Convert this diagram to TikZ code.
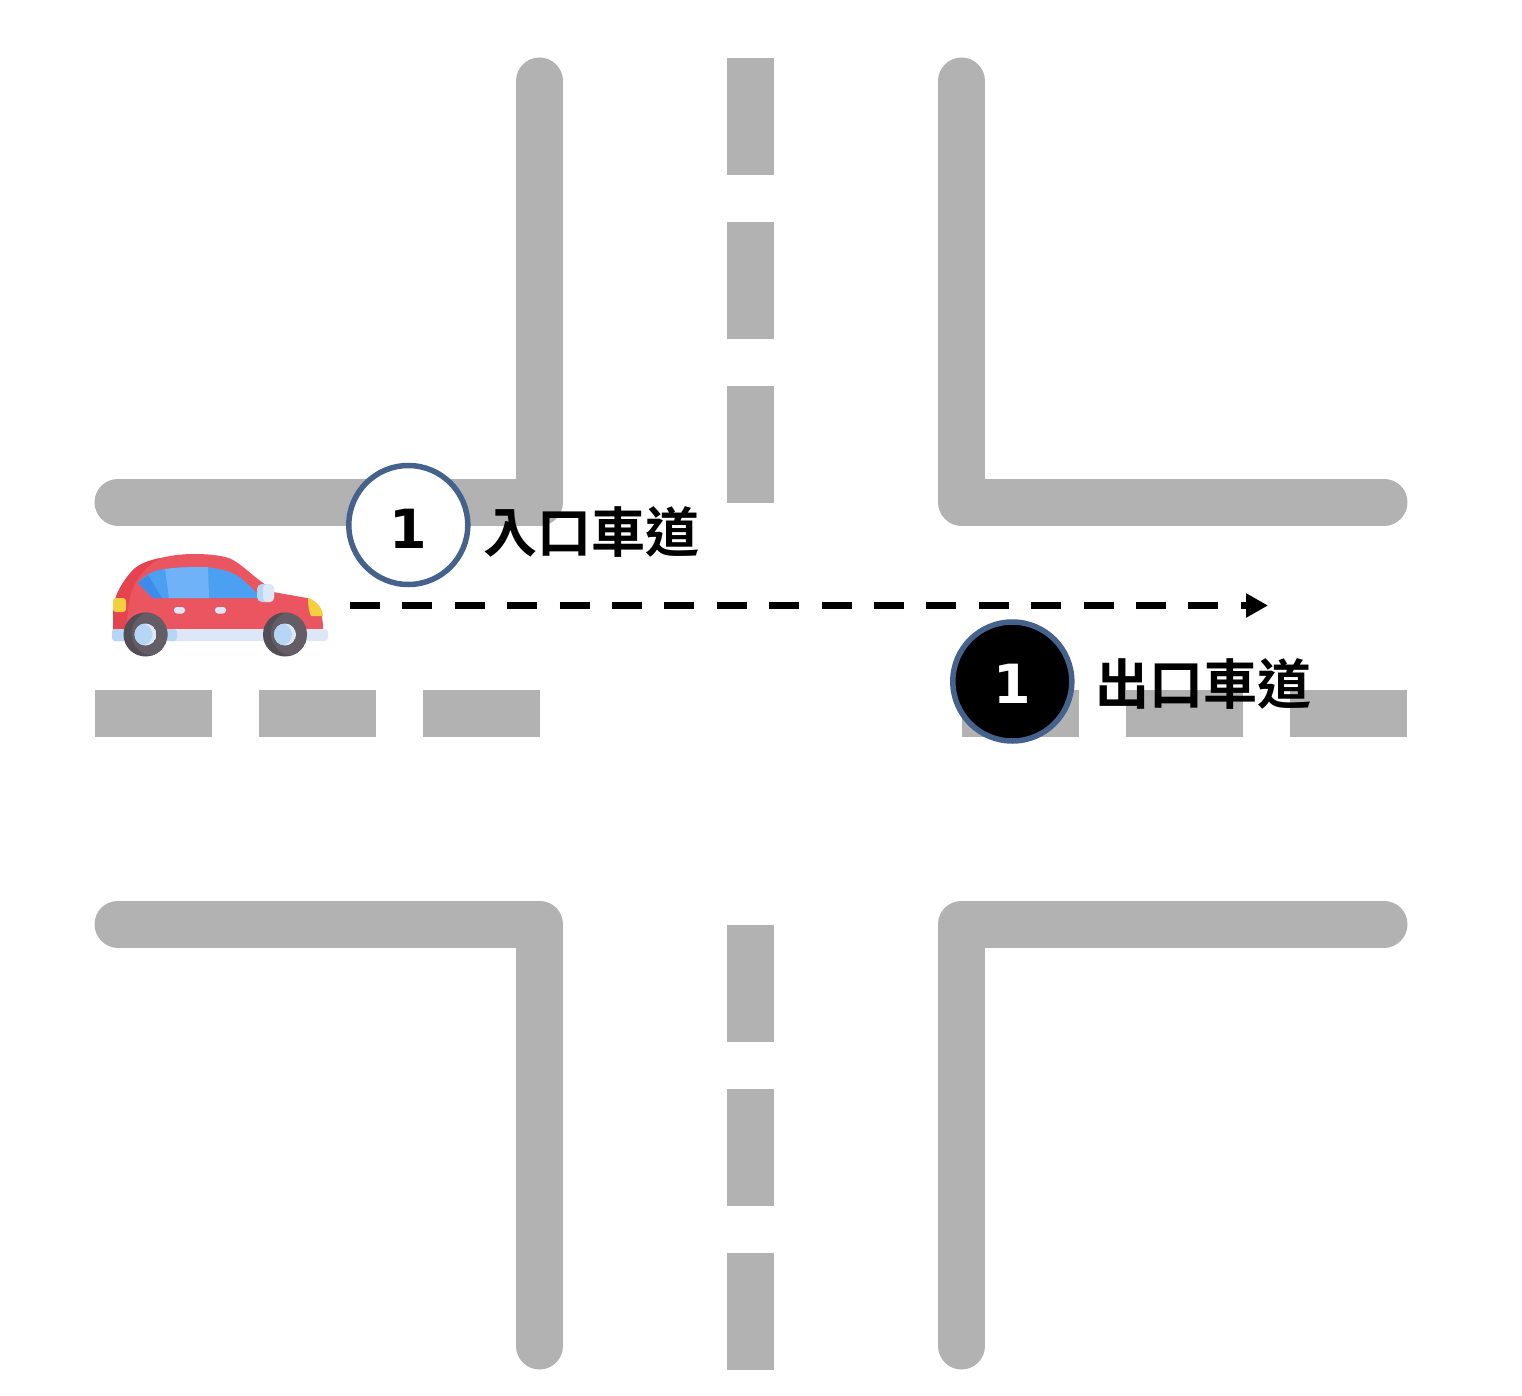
\documentclass[tikz,border=0pt]{standalone}
\usepackage{fontspec}
\usetikzlibrary{arrows.meta}
\setmainfont{DejaVu Sans}
\newfontfamily\cjkfont{Noto Sans CJK TC Bold}
\definecolor{roadgray}{HTML}{B2B2B2}
\definecolor{ringblue}{HTML}{44628C}
\definecolor{carred}{HTML}{EB5560}
\definecolor{cardark}{HTML}{E5444F}
\definecolor{glassmid}{HTML}{4BA0F2}
\definecolor{glasslight}{HTML}{70B2F8}
\definecolor{glassdark}{HTML}{3D8BEB}
\definecolor{carpale}{HTML}{DDE7F7}
\definecolor{carpaleblue}{HTML}{B6D6F5}
\definecolor{tyre}{HTML}{645D66}
\definecolor{tyredark}{HTML}{534D55}
\definecolor{lampyellow}{HTML}{F6CF3F}
\tikzset{
  x=1pt,y=-1pt,
  road/.style={draw=roadgray,line width=47pt,line cap=round,line join=round},
  lane/.style={fill=roadgray,draw=none},
  badge/.style={circle,draw=ringblue,line width=5.5pt,minimum size=119pt,inner sep=0pt,text depth=0pt,font=\bfseries\fontsize{54}{54}\selectfont},
  label/.style={anchor=west,inner sep=0pt,font=\cjkfont\fontsize{54}{54}\selectfont},
  route/.style={line width=7pt,dash pattern=on 30pt off 22.4pt,-{Triangle[length=22pt,width=23pt]}}
}
\newcommand{\wheel}[2]{%
  \begin{scope}
    \clip (#1,#2) circle (22pt);
    \fill[tyredark] (#1,#2) circle (22pt);
    \fill[tyre] (#1+8,#2-1) circle (22pt);
  \end{scope}
  \begin{scope}
    \clip (#1,#2) circle (11pt);
    \fill[carpale] (#1,#2) circle (11pt);
    \fill[carpaleblue] (#1-4,#2) circle (11pt);
  \end{scope}}
\begin{document}
\begin{tikzpicture}
\useasboundingbox (0,0) rectangle (1522,1396);
% kerbs
\draw[road] (118,502) -- (539.5,502) -- (539.5,81);
\draw[road] (1384,502) -- (961.5,502) -- (961.5,81);
\draw[road] (118,924) -- (539.5,924) -- (539.5,1346);
\draw[road] (1384,924) -- (961.5,924) -- (961.5,1346);
% centre lanes
\foreach \y in {58,222,386,925,1089,1253}
  \fill[lane] (727,\y) rectangle ++(47,117);
\foreach \x in {95,259,423,962,1126,1290}
  \fill[lane] (\x,690) rectangle ++(117,47);
% car
\fill[carred] (113,630) -- (113,610) .. controls (114,596) and (122,582) .. (133,570) .. controls (142,561) and (170,554) .. (193,554) .. controls (212,554) and (226,556) .. (233,560) .. controls (242,565) and (252,575) .. (263,583) -- (273,592) -- (307,598) .. controls (317,601) and (323,612) .. (323,628) -- (323,632) -- cycle;
\fill[cardark] (113,630) -- (113,610) .. controls (114,596) and (122,582) .. (133,570) .. controls (140,563) and (150,560) .. (161,558) .. controls (142,568) and (130,585) .. (128,610) -- (126,630) -- cycle;
\fill[glassmid] (138,583) .. controls (145,574) and (155,570) .. (165,569) .. controls (185,566) and (210,566) .. (223,570) .. controls (240,574) and (245,582) .. (258,594) -- (258,598) -- (153,598) -- cycle;
\fill[glasslight] (165,569) .. controls (180,567) and (195,567) .. (208,567) -- (209,598) -- (169,598) -- cycle;
\fill[glassdark] (138,583) -- (148,575) -- (162,598) -- (153,598) -- cycle;
\fill[carpaleblue,rounded corners=5pt] (257,584) rectangle (274,602);
\fill[carpale,rounded corners=4pt] (263,584) rectangle (274,602);
\fill[carpale,rounded corners=3pt] (174,607) rectangle (185,613.5);
\fill[carpale,rounded corners=3pt] (215,607) rectangle (226,613.5);
\fill[lampyellow,rounded corners=3pt] (113,598) rectangle (126,612);
\fill[lampyellow] (308,598) .. controls (318,601) and (323,610) .. (323,616) -- (311,616) .. controls (309,612) and (308,606) .. cycle;
\fill[carpale,rounded corners=3pt] (112,629) rectangle (328,641);
\fill[carpaleblue,rounded corners=3pt] (112,629) rectangle (177,641);
\wheel{145.5}{634.5}
\wheel{285}{634.5}
% route
\coordinate (routeStart) at (350,605.5);
\coordinate (routeEnd) at (1268,605.5);
\draw[route] (routeStart) -- (routeEnd);
% badges
\node[badge,fill=white,text=black,text height=46pt] (entry) at (408.3,525) {1};
\node[badge,fill=black,text=white,text height=43pt] (exit) at (1012.3,681.5) {1};
\node[label] (entryText) at (483.5,532) {入口車道};
\node[label] (exitText) at (1095.5,684) {出口車道};
\end{tikzpicture}
\end{document}
